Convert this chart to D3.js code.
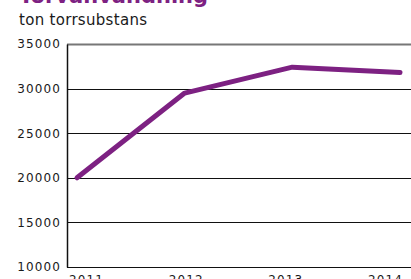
<!DOCTYPE html>
<html>
<head>
<meta charset="utf-8">
<script src="https://cdn.jsdelivr.net/npm/d3@7"></script>
<style>
  body { margin: 0; background: #fff; }
  svg { display: block; }
</style>
</head>
<body>
<svg width="411" height="279"></svg>
<script>
// data
const years = ["2011", "2012", "2013", "2014"];
const values = [20000, 29500, 32400, 31800];
const yTicks = [10000, 15000, 20000, 25000, 30000, 35000];

const svg = d3.select("svg");
const purple = "#7d2182";

// plot area
const plotLeft = 67, plotRight = 411, plotTop = 44, plotBottom = 267;

const x = d3.scalePoint().domain(years).range([77, 400]);
// the year labels in the original sit a bit tighter than the points
const xLabels = d3.scalePoint().domain(years).range([86, 385]);
const y = d3.scaleLinear().domain([10000, 35000]).range([plotBottom, plotTop]);

// title (cut off at top in the original)
svg.append("text")
    .attr("x", 19)
    .attr("y", 3)
    .attr("font-family", "DejaVu Sans")
    .attr("font-weight", "bold")
    .attr("font-size", 21)
    .attr("fill", purple)
    .text("Torvanvändning");

svg.append("text")
    .attr("x", 19)
    .attr("y", 25)
    .attr("font-family", "DejaVu Sans")
    .attr("font-size", 15)
    .attr("letter-spacing", 0.3)
    .attr("fill", "#1a1a1a")
    .text("ton torrsubstans");

// gridlines
svg.append("g")
    .selectAll("line")
    .data(yTicks)
    .enter()
    .append("line")
    .attr("x1", plotLeft)
    .attr("x2", plotRight)
    .attr("y1", d => Math.round(y(d)) + 0.5)
    .attr("y2", d => Math.round(y(d)) + 0.5)
    .attr("stroke", d => d == 35000 ? "#777" : "#111")
    .attr("stroke-width", d => d == 35000 ? 2 : 1);

// y axis
const yAxis = svg.append("g")
    .attr("transform", `translate(${plotLeft},0)`)
    .call(d3.axisLeft(y).tickValues(yTicks).tickSize(0).tickPadding(6).tickFormat(d3.format("d")));
yAxis.select(".domain").attr("stroke", "#111").attr("stroke-width", 1.5);
yAxis.selectAll("text")
    .attr("font-family", "DejaVu Sans")
    .attr("font-size", 12)
    .attr("letter-spacing", 1.1)
    .attr("fill", "#1a1a1a");

// x axis (labels mostly cut off at bottom)
const xAxis = svg.append("g")
    .attr("transform", `translate(0,${plotBottom})`)
    .call(d3.axisBottom(xLabels).tickSize(0).tickPadding(8));
xAxis.select(".domain").remove();
xAxis.selectAll("text")
    .attr("font-family", "DejaVu Sans")
    .attr("font-size", 12)
    .attr("letter-spacing", 1.1)
    .attr("fill", "#1a1a1a");

// line
const line = d3.line()
    .x((d, i) => x(years[i]))
    .y(d => y(d));

svg.append("path")
    .datum(values)
    .attr("d", line)
    .attr("fill", "none")
    .attr("stroke", purple)
    .attr("stroke-width", 5)
    .attr("stroke-linecap", "round")
    .attr("stroke-linejoin", "round");
</script>
</body>
</html>
